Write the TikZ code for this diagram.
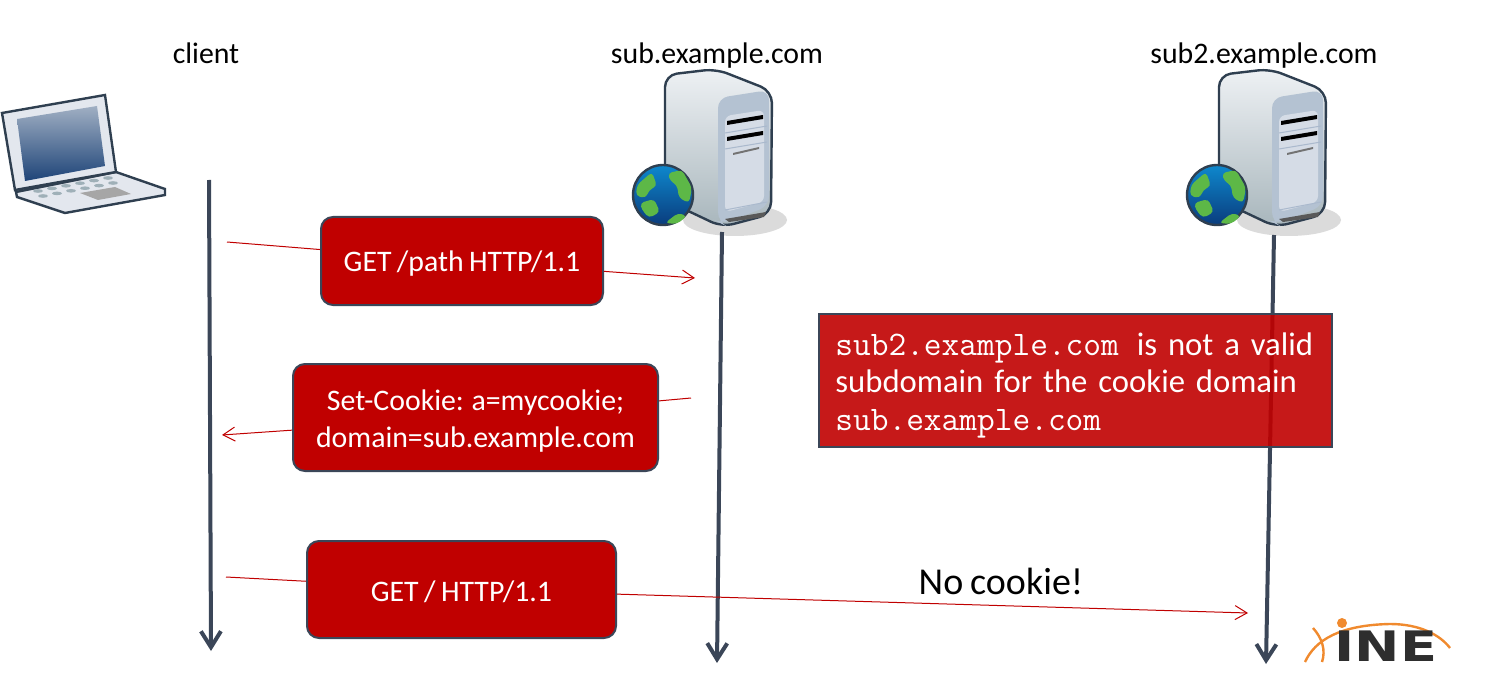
\documentclass[tikz,border=0pt]{standalone}
\usepackage{fontspec}
\setmainfont[WordSpace=0.8]{Carlito}
\usetikzlibrary{arrows,arrows.meta,positioning}

\definecolor{boxred}{HTML}{C00000}
\definecolor{slate}{HTML}{3B4658}
\definecolor{inkline}{HTML}{2F3F50}
\definecolor{logoorange}{HTML}{F08A2E}
\definecolor{globegreen}{HTML}{5DB847}
\definecolor{globetop}{HTML}{0E88CD}
\definecolor{globebottom}{HTML}{0A3C7D}
\definecolor{keygrey}{HTML}{9FB0B8}
\definecolor{bodytop}{HTML}{EEF1F4}
\definecolor{bodybottom}{HTML}{A8B6BC}
\definecolor{panelback}{HTML}{B4C2D2}
\definecolor{panelfront}{HTML}{D5DCE6}
\definecolor{panelline}{HTML}{AAB9CD}
\definecolor{laptopframe}{HTML}{E3E7EE}
\definecolor{screentop}{HTML}{A0AFC3}
\definecolor{screenbottom}{HTML}{1E4478}

\tikzset{
	msgbox/.style={draw=slate, line width=1pt, fill=boxred, rounded corners=6pt, text=white, align=center, font=\fontsize{14.9}{18.5}\selectfont, execute at begin node=\rule{0pt}{13pt}},
	lifeline/.style={draw=slate, line width=2pt, -{Straight Barb[length=8pt,width=10pt,line width=2pt]}},
	msg/.style={draw=boxred, line width=0.5pt},
	msgtip/.style={-{Straight Barb[length=6pt,width=7pt,line width=0.5pt]}},
	title/.style={text=black, font=\fontsize{14.9}{16}\selectfont},
	serverpic/.pic={
		\fill[black!14] (735,220) ellipse (52 and 16);
		\draw[inkline, line width=1.2pt, rounded corners=6pt, top color=bodytop, bottom color=bodybottom] (665,140) -- (665,75) -- (716,69) -- (772,91) -- (771,214) -- (722,227) -- (665,200) -- cycle;
		\fill[rounded corners=5pt, fill=panelback] (718,150) -- (718,98) -- (769,90) -- (769,206) -- (722,224) -- (718,222) -- cycle;
		\fill[rounded corners=3pt, fill=panelfront] (725,116) -- (764,110) -- (764,202) -- (725,212) -- cycle;
		\fill[black] (727,121) -- (763,115) -- (763,119) -- (727,125) -- cycle;
		\fill[black] (727,137) -- (763,131) -- (763,135) -- (727,141) -- cycle;
		\fill[black!55] (733,153) -- (759,147) -- (759,149) -- (733,155) -- cycle;
		\fill[black!65] (725,219) -- (766,212) -- (764,217) -- (729,222) -- cycle;
		\draw[panelline, line width=0.5pt] (725,133) -- (767,126) (725,149) -- (767,142) (725,210) -- (767,202);
		\draw[inkline, line width=1.2pt, top color=globetop, bottom color=globebottom] (663,195) circle (30);
		\fill[globegreen, rounded corners=2pt] (637,185) -- (652,172) -- (657,186) -- (649,190) -- (646,198) -- (636,196) -- cycle;
		\fill[globegreen, rounded corners=2pt] (668,173) -- (682,170) -- (692,188) -- (689,203) -- (679,198) -- (677,185) -- (670,181) -- cycle;
		\fill[globegreen, rounded corners=2pt] (640,203) -- (654,199) -- (660,212) -- (649,218) -- (642,210) -- cycle;
		\fill[globegreen, rounded corners=2pt] (665,223) -- (678,213) -- (687,216) -- (677,224) -- cycle;
	}
}

\begin{document}
\begin{tikzpicture}[x=0.5pt, y=-0.5pt]
	\useasboundingbox (0,0) rectangle (1504,684);

	% laptop
	\draw[inkline, line width=1.2pt, fill=laptopframe] (16,192) -- (116,172) -- (165,189) -- (165,195) -- (65,213) -- (17,197) -- cycle;
	\draw[inkline, line width=1.2pt, fill=laptopframe] (2,113) -- (105,95) -- (116,172) -- (15,190) -- cycle;
	\shade[top color=screentop, bottom color=screenbottom] (17,119) -- (97,106) -- (105,166) -- (25,181) -- cycle;
	\foreach \row/\dx/\dy in {0/0/0, 1/5/5} {
		\foreach \k in {0,...,5} {
			\fill[keygrey] ({38+\dx+\k*14},{191+\dy-\k*2.6}) ellipse (5 and 1.8);
		}
	}
	\fill[black!35] (80,193) -- (115,187) -- (131,194) -- (98,200) -- cycle;

	% servers
	\pic at (0,0) {serverpic};
	\pic at (554,0) {serverpic};

	% titles
	\node[title] (client) at (206,53) {client};
	\node[title] (sub) at (717,56) {sub.example.com};
	\node[title] (subtwo) at (1264,56) {sub2.example.com};

	% lifelines
	\coordinate (clienttop) at (209,180);
	\coordinate (clientend) at (211,651);
	\coordinate (subtop) at (722,232);
	\coordinate (subend) at (717,663);
	\coordinate (subtwotop) at (1274,235);
	\coordinate (subtwoend) at (1266,664);
	\draw[lifeline] (clienttop) -- (clientend);
	\draw[lifeline] (subtop) -- (subend);
	\draw[lifeline] (subtwotop) -- (subtwoend);

	% messages
	\coordinate (getfrom) at (227,242);
	\coordinate (getto) at (695,278);
	\coordinate (setfrom) at (691,398);
	\coordinate (setto) at (222,435);
	\coordinate (rootfrom) at (226,577);
	\coordinate (rootto) at (1248,613);

	\node[msgbox, minimum width=141pt, minimum height=44pt] (getpath) at (462,261) {GET /path HTTP/1.1};
	\node[msgbox, minimum width=182.5pt, minimum height=53.5pt] (setcookie) at (475.5,417.5) {\rule{0pt}{14pt}Set-Cookie: a=mycookie;\\domain=sub.example.com};
	\node[msgbox, minimum width=154.5pt, minimum height=48.5pt] (getroot) at (461.5,589.5) {GET / HTTP/1.1};

	\draw[msg] (getfrom) -- (getpath);
	\draw[msg, msgtip] (getpath) -- (getto);
	\draw[msg] (setfrom) -- (setcookie);
	\draw[msg, msgtip] (setcookie) -- (setto);
	\draw[msg] (rootfrom) -- (getroot);
	\draw[msg, msgtip] (getroot) -- (rootto);

	% note over the second server
	\node[draw=slate, line width=1pt, fill=boxred, fill opacity=0.9, text opacity=1, text=white, minimum width=256.5pt, minimum height=66.5pt, inner sep=0pt] (note) at (1075.5,380.5) {};
	\node[text=white, anchor=north west, inner sep=0pt, text width=250pt, align=left, font=\fontsize{16.35}{18.8}\selectfont] (notetext) at (835,332) {{\ttfamily\fontsize{17.2}{18.8}\selectfont sub2.example.com}\hspace{9pt}is not a valid\\subdomain for the cookie domain\\{\ttfamily\fontsize{17.2}{18.8}\selectfont sub.example.com}};

	\node[text=black, font=\fontsize{19}{22}\selectfont] (nocookie) at (1001,581) {No cookie!};

	% logo
	\draw[logoorange, line width=1.2pt] (1305,662) .. controls (1315,640) and (1340,625) .. (1390,624) .. controls (1420,624) and (1440,635) .. (1450,648);
	\draw[logoorange, line width=1.2pt] (1313,628) .. controls (1322,638) and (1326,650) .. (1322,662);
	\fill[logoorange] (1342,623) circle (5);
	\node[text=black!82, inner sep=0pt, xscale=1.29, font=\fontsize{21}{24}\bfseries\fontspec{DejaVu Sans}] (inelogo) at (1386,646) {INE};
\end{tikzpicture}
\end{document}
